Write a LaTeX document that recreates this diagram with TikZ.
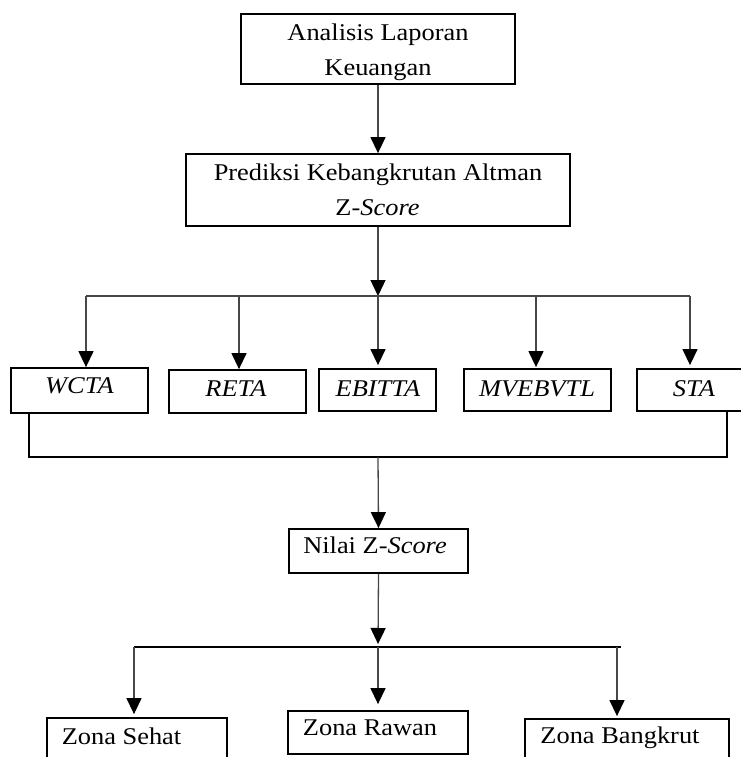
\documentclass[tikz,border=0pt]{standalone}
\usepackage{fontspec}
\setmainfont{Liberation Serif}
\usepackage{graphicx}
\usetikzlibrary{arrows.meta}
\newcommand{\wt}[1]{\scalebox{1.1}[1]{#1}}
\begin{document}
\begin{tikzpicture}[x=1pt,y=-1pt,
  box/.style={draw=black, line width=1.8pt, inner sep=0pt},
  lbl/.style={anchor=base, inner sep=0pt, font=\fontsize{24}{29}\selectfont},
  conn/.style={draw=black!72, line width=1.3pt},
  joinline/.style={draw=black, line width=1.8pt},
  arr/.style={-{Triangle[width=15pt,length=16pt,color=black]}},
]
\useasboundingbox (0,0) rectangle (740,757);
% boxes
\node[box, minimum width=274pt, minimum height=70pt] (lap) at (378,49) {};
\node[box, minimum width=384pt, minimum height=72pt] (alt) at (378,190) {};
\node[box, minimum width=137pt, minimum height=45pt] (wcta) at (79.5,390.5) {};
\node[box, minimum width=137pt, minimum height=43pt] (reta) at (237.5,391.5) {};
\node[box, minimum width=117pt, minimum height=42pt] (ebit) at (377.5,390) {};
\node[box, minimum width=147pt, minimum height=42pt] (mve) at (537.5,390) {};
\node[box, minimum width=108pt, minimum height=42pt] (sta) at (691,390) {};
\node[box, minimum width=179pt, minimum height=44pt] (nilai) at (378.5,551) {};
\node[box, minimum width=180pt, minimum height=57pt] (sehat) at (137,746.5) {};
\node[box, minimum width=180pt, minimum height=43pt] (rawan) at (378,732.5) {};
\node[box, minimum width=204pt, minimum height=56pt] (bangk) at (627,747) {};
% labels
\node[lbl] (lap1) at (378,41) {\wt{Analisis Laporan}};
\node[lbl] (lap2) at (378,76) {\wt{Keuangan}};
\node[lbl] (alt1) at (378,180) {\wt{Prediksi Kebangkrutan Altman}};
\node[lbl] (alt2) at (377.5,215) {\wt{Z-\textit{Score}}};
\node[lbl] (wctat) at (79.5,393) {\wt{\textit{WCTA}}};
\node[lbl] (retat) at (236,396) {\wt{\textit{RETA}}};
\node[lbl] (ebitt) at (378,396) {\wt{\textit{EBITTA}}};
\node[lbl] (mvet) at (537,396) {\wt{\textit{MVEBVTL}}};
\node[lbl] (stat) at (694,396) {\wt{\textit{STA}}};
\node[lbl] (nilait) at (375,553) {\wt{Nilai Z-\textit{Score}}};
\node[lbl] (sehatt) at (121.5,744) {\wt{Zona Sehat}};
\node[lbl] (rawant) at (370,735) {\wt{Zona Rawan}};
\node[lbl] (bangkt) at (620,743) {\wt{Zona Bangkrut}};
% coordinates
\coordinate (bm) at (378,296);
\coordinate (bl) at (86,296);
\coordinate (b2) at (239,296);
\coordinate (b4) at (536,296);
\coordinate (br) at (690,296);
\coordinate (jl) at (29,457);
\coordinate (jm) at (378,457);
\coordinate (jr) at (727,457);
\coordinate (zm) at (378,647);
\coordinate (zl) at (134,647);
\coordinate (zb) at (617,647);
\coordinate (zr) at (621,647);
% connectors
\draw[conn,arr] (lap.south) -- (alt.north);
\draw[conn,arr] (alt.south) -- (bm);
\draw[conn] (bl) -- (br);
\draw[conn,arr] (bl) -- (bl |- wcta.north);
\draw[conn,arr] (b2) -- (b2 |- reta.north);
\draw[conn,arr,shorten >=3pt] (bm) -- (bm |- ebit.north);
\draw[conn,arr,shorten >=1pt] (b4) -- (b4 |- mve.north);
\draw[conn,arr,shorten >=3pt] (br) -- (br |- sta.north);
\draw[joinline] (jl |- wcta.south) -- (jl) -- (jr) -- (jr |- sta.south);
\draw[conn,arr] (jm) -- (nilai.north);
\draw[conn,arr,shorten >=3pt] (nilai.south) -- (zm);
\draw[joinline] (zl) -- (zr);
\draw[conn,arr,shorten >=3pt] (zl) -- (zl |- sehat.north);
\draw[conn,arr,shorten >=6pt] (zm) -- (rawan.north);
\draw[conn,arr,shorten >=2pt] (zb) -- (zb |- bangk.north);
\end{tikzpicture}
\end{document}
